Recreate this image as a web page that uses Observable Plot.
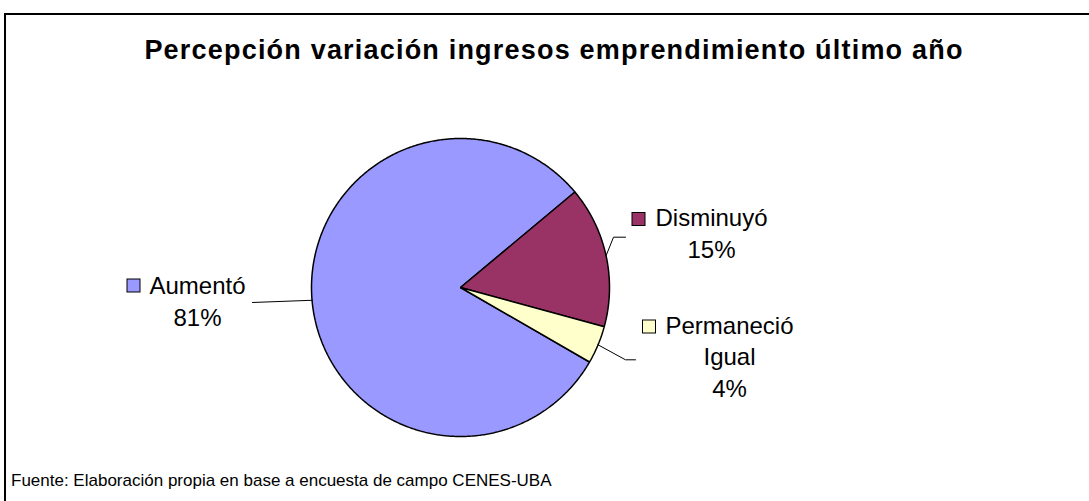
<!DOCTYPE html>
<html>
<head>
<meta charset="utf-8">
<script src="https://cdn.jsdelivr.net/npm/d3@7"></script>
<script src="https://cdn.jsdelivr.net/npm/@observablehq/plot@0.6"></script>
<style>
html, body { margin: 0; padding: 0; background: #fff; overflow: hidden; }
#wrap { position: relative; width: 1089px; height: 501px; overflow: hidden; font-family: "Liberation Sans", Arial, sans-serif; color: #000; }
#frame { position: absolute; left: 4px; top: 13px; width: 1200px; height: 600px; border: 2px solid #000; box-sizing: border-box; }
#title { position: absolute; left: 0; width: 1108px; top: 37px; text-align: center; font-weight: bold; font-size: 27px; line-height: 27px; letter-spacing: 1.2px; white-space: nowrap; }
#chart { position: absolute; left: 0; top: 95px; }
#caption { position: absolute; left: 11px; top: 472px; font-size: 17px; line-height: 17px; white-space: nowrap; }
</style>
</head>
<body>
<div id="wrap">
  <div id="frame"></div>
  <div id="title"></div>
  <div id="chart"></div>
  <div id="caption"></div>
</div>
<script>
// ---- data ----
const titleText = "Percepción variación ingresos emprendimiento último año";
const captionText = "Fuente: Elaboración propia en base a encuesta de campo CENES-UBA";
const categories = ["Aumentó", "Disminuyó", "Permaneció Igual"];
const values = [80.6, 15.3, 4.1];
const colors = ["#9999FF", "#993366", "#FFFFCC"];

// ---- layout (page pixels) ----
const W = 1089, H = 360, TOP = 95;
const R = 149, PCX = 460, PCY = 287;   // pie centre on the page and radius
const startDeg = 120;                    // angle of first slice, clockwise from 12 o'clock
const labelLayout = {
  "Aumentó":          { leader: [[252, 302]],                 text: [197, 325],   key: [133.5, 285.5] },
  "Disminuyó":        { leader: [[613, 236.7], [625, 236.7]], text: [711, 257],   key: [638.5, 219] },
  "Permaneció Igual": { leader: [[625, 359.3], [635, 359.3]], text: [729, 396],   key: [649, 326.5] }
};
const KEY = 13;

document.getElementById("title").textContent = titleText;
document.getElementById("caption").textContent = captionText;

const ux = px => (px - PCX) / R;
const uy = py => (PCY - py) / R;

const rows = categories.map((c, i) => ({ cat: c, value: values[i] }));
const a0 = startDeg * Math.PI / 180;
const arcs = d3.pie().sort(null).value(d => d.value).startAngle(a0).endAngle(a0 + 2 * Math.PI)(rows);

// slice outlines computed from the data
const slicePts = arcs.flatMap(a => {
  const pts = [{ cat: a.data.cat, x: 0, y: 0 }];
  const n = Math.max(2, Math.ceil((a.endAngle - a.startAngle) / (Math.PI / 360)));
  for (let i = 0; i <= n; i++) {
    const t = a.startAngle + (a.endAngle - a.startAngle) * i / n;
    pts.push({ cat: a.data.cat, x: Math.sin(t), y: Math.cos(t) });
  }
  return pts;
});

// leader lines: from slice mid-angle on the rim to the label
const leaderPts = arcs.flatMap(a => {
  const m = (a.startAngle + a.endAngle) / 2;
  const L = labelLayout[a.data.cat];
  return [{ cat: a.data.cat, x: Math.sin(m), y: Math.cos(m) },
          ...L.leader.map(([px, py]) => ({ cat: a.data.cat, x: ux(px), y: uy(py) }))];
});

const labels = arcs.map(a => {
  const L = labelLayout[a.data.cat];
  return { cat: a.data.cat, x: ux(L.text[0]), y: uy(L.text[1]),
           text: a.data.cat.replace(" ", "\n") + "\n" + Math.round(a.data.value) + "%" };
});
const keys = arcs.map(a => {
  const [kx, ky] = labelLayout[a.data.cat].key;
  return { cat: a.data.cat, x1: ux(kx - KEY / 2), x2: ux(kx + KEY / 2), y1: uy(ky + KEY / 2), y2: uy(ky - KEY / 2) };
});

const CY = PCY - TOP;
const chart = Plot.plot({
  width: W, height: H, margin: 0,
  style: { fontFamily: "Liberation Sans, Arial, sans-serif", fontSize: "24px", background: "transparent", color: "#000" },
  x: { domain: [-PCX / R, (W - PCX) / R], range: [0, W], axis: null },
  y: { domain: [-(H - CY) / R, CY / R], range: [H, 0], axis: null },
  color: { domain: categories, range: colors },
  marks: [
    Plot.line(slicePts, { x: "x", y: "y", z: "cat", fill: "cat", stroke: "#000", strokeWidth: 1.5, curve: "linear-closed", strokeLinejoin: "miter" }),
    Plot.line(leaderPts, { x: "x", y: "y", z: "cat", stroke: "#000", strokeWidth: 1 }),
    Plot.rect(keys, { x1: "x1", x2: "x2", y1: "y1", y2: "y2", fill: "cat", stroke: "#000", strokeWidth: 1 }),
    Plot.text(labels, { x: "x", y: "y", text: "text", textAnchor: "middle", lineAnchor: "bottom", lineHeight: 1.3125, fontSize: 24, fill: "#000" })
  ]
});
document.getElementById("chart").appendChild(chart);
</script>
</body>
</html>
